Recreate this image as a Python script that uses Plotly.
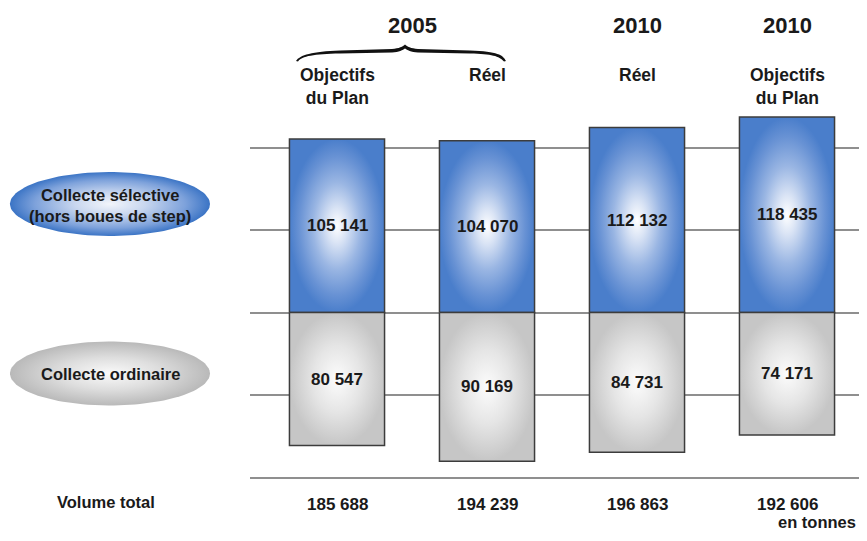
import numpy as np
import plotly.graph_objects as go

# data
periods = ["2005 Objectifs", "2005 Réel", "2010 Réel", "2010 Objectifs"]
period_kinds = ["Objectifs<br>du Plan", "Réel", "Réel", "Objectifs<br>du Plan"]
year_labels = ["2005", "2010", "2010"]
year_positions = [0.5, 2, 3]
selective = [105141, 104070, 112132, 118435]
ordinary = [80547, 90169, 84731, 74171]
series_names = ["Collecte sélective<br>(hors boues de step)", "Collecte ordinaire"]

FONT = "Liberation Sans, Arial, sans-serif"
BLUE_SCALE = [[0, "#ffffff"], [0.2, "#dae4f5"], [0.5, "#9ab6e3"], [0.8, "#6892d4"], [1, "#4a7ecb"]]
GRAY_SCALE = [[0, "#fcfcfc"], [0.5, "#e5e5e5"], [1, "#c6c6c6"]]
ELLIPSE_BLUE = [[0, "#f2f5fb"], [0.35, "#c9d7ef"], [0.75, "#7ea2db"], [1, "#3b74c5"]]
ELLIPSE_GRAY = [[0, "#fafafa"], [0.5, "#dedede"], [1, "#b9b9b9"]]
BAR_HALF = 0.317

# the page body keeps an 8px margin all round, so size the figure to fit inside it
OFF = 8
PAGE_W, PAGE_H = 867, 541
W, H = PAGE_W - 2 * OFF, PAGE_H - 2 * OFF
RIGHT, BOTTOM = PAGE_W - OFF, PAGE_H - OFF


def fmt(value):
    return f"{value:,}".replace(",", " ")


def bar_trace(i, value, scale):
    xs = [i - BAR_HALF, i + BAR_HALF, i + BAR_HALF, i - BAR_HALF, i - BAR_HALF]
    ys = [0, 0, value, value, 0]
    return go.Scatter(
        x=xs,
        y=ys,
        mode="lines",
        fill="toself",
        fillgradient={"type": "radial", "colorscale": scale},
        line={"color": "#3c3c3c", "width": 1.5},
        hoverinfo="skip",
        showlegend=False,
        xaxis="x",
        yaxis="y",
    )


def ellipse_trace(cx, cy, rx, ry, scale):
    t = np.linspace(0, 2 * np.pi, 120)
    return go.Scatter(
        x=cx + rx * np.cos(t),
        y=cy + ry * np.sin(t),
        mode="lines",
        fill="toself",
        fillgradient={"type": "radial", "colorscale": scale},
        line={"width": 0, "color": "rgba(0,0,0,0)"},
        hoverinfo="skip",
        showlegend=False,
        xaxis="x2",
        yaxis="y2",
    )


fig = go.Figure()
for i, (sel, ordi) in enumerate(zip(selective, ordinary)):
    fig.add_trace(bar_trace(i, sel, BLUE_SCALE))
    fig.add_trace(bar_trace(i, -ordi, GRAY_SCALE))

fig.add_trace(ellipse_trace(110, 204, 100, 32, ELLIPSE_BLUE))
fig.add_trace(ellipse_trace(110, 373.5, 100, 32, ELLIPSE_GRAY))

annotations = []
text_font = {"family": FONT, "size": 17, "color": "#1a1a1a"}


def bold(s):
    return f"<b>{s}</b>"


for i, (sel, ordi) in enumerate(zip(selective, ordinary)):
    annotations.append(dict(x=i, y=sel / 2, xref="x", yref="y", text=bold(fmt(sel)),
                            showarrow=False, font=text_font))
    annotations.append(dict(x=i, y=-ordi / 2, xref="x", yref="y", text=bold(fmt(ordi)),
                            showarrow=False, font=text_font))
    annotations.append(dict(x=i, y=504, xref="x", yref="y2", text=bold(fmt(sel + ordi)),
                            showarrow=False, font=text_font))
    annotations.append(dict(x=i, y=63, xref="x", yref="y2", yanchor="top",
                            text=bold(period_kinds[i]), showarrow=False,
                            font={**text_font, "size": 17.5}))

for pos, year in zip(year_positions, year_labels):
    annotations.append(dict(x=pos, y=25, xref="x", yref="y2", text=bold(year),
                            showarrow=False, font={**text_font, "size": 22}))

annotations.append(dict(x=110, y=205, xref="x2", yref="y2", text=bold(series_names[0]),
                        showarrow=False, font={**text_font, "size": 16.5}))
annotations.append(dict(x=110, y=374, xref="x2", yref="y2", text=bold(series_names[1]),
                        showarrow=False, font={**text_font, "size": 16.5}))
annotations.append(dict(x=106, y=502, xref="x2", yref="y2", text=bold("Volume total"),
                        showarrow=False, font={**text_font, "size": 16.5}))
annotations.append(dict(x=RIGHT - 1, y=BOTTOM, xref="x2", yref="y2", xanchor="right",
                        yanchor="bottom", text=bold("en tonnes"), showarrow=False,
                        font={**text_font, "size": 16.5}))

brace = (
    "M296,61 C300,55 312,51.5 340,50.5 L392,49 C399,48.5 403,46.5 405,44.5 "
    "C407,46.5 411,48.5 418,49 L470,50.5 C498,51.5 503,55 506,61 "
    "L504,61.5 C499,56 492,54 470,53.5 L418,52.5 C411,52 407,50 405,48.5 "
    "C403,50 399,52 392,52.5 L340,53.5 C314,54 302,56 298,61.5 Z"
)

fig.update_layout(
    width=W,
    height=H,
    margin={"l": 0, "r": 0, "t": 0, "b": 0},
    paper_bgcolor="white",
    plot_bgcolor="rgba(0,0,0,0)",
    showlegend=False,
    xaxis={
        "domain": [(250 - OFF) / W, 1],
        "range": [-0.58, (RIGHT - 337) / 150],
        "showgrid": False,
        "zeroline": False,
        "showticklabels": False,
        "ticks": "",
        "fixedrange": True,
    },
    yaxis={
        "domain": [(BOTTOM - 500) / H, (BOTTOM - 100) / H],
        "range": [-113600, 128800],
        "tickvals": [-100000, -50000, 50000, 100000],
        "showticklabels": False,
        "gridcolor": "#8f8f8f",
        "gridwidth": 1.5,
        "zeroline": True,
        "zerolinecolor": "#8f8f8f",
        "zerolinewidth": 1.5,
        "fixedrange": True,
    },
    xaxis2={"domain": [0, 1], "range": [OFF, RIGHT], "visible": False, "anchor": "y2"},
    yaxis2={"domain": [0, 1], "range": [BOTTOM, OFF], "visible": False, "anchor": "x2"},
    annotations=annotations,
    shapes=[dict(type="path", path=brace, xref="x2", yref="y2",
                 fillcolor="#111111", line={"width": 0})],
)

fig.write_html("out.html")
